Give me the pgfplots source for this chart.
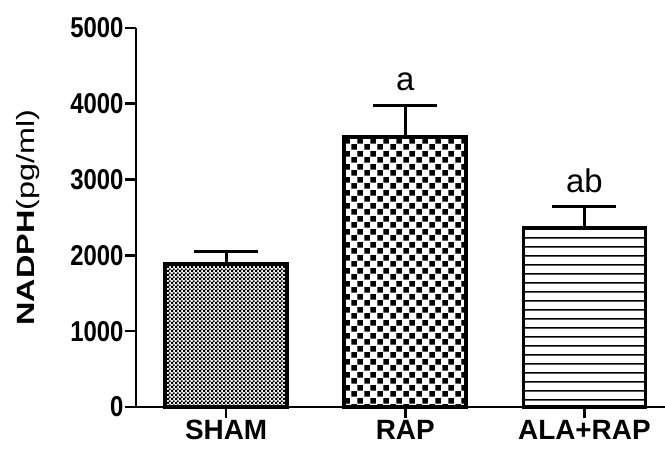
\documentclass[border=0pt]{standalone}
\usepackage{graphicx}
\usepackage{pgfplots}
\pgfplotsset{compat=1.18}
\usepackage{fontspec}
\setmainfont{Liberation Sans}
\usetikzlibrary{patterns.meta}
\pgfdeclarepattern{name=checker, type=uncolored,
  bottom left={\pgfpointorigin}, top right={\pgfpoint{13bp}{13bp}},
  tile size={\pgfpoint{13bp}{13bp}},
  code={\pgfpathrectangle{\pgfpoint{0.3bp}{0.3bp}}{\pgfpoint{6bp}{6bp}}
        \pgfpathrectangle{\pgfpoint{6.8bp}{6.8bp}}{\pgfpoint{6bp}{6bp}}
        \pgfusepath{fill}}}
\pgfdeclarepattern{name=finedots, type=uncolored,
  bottom left={\pgfpointorigin}, top right={\pgfpoint{4.2bp}{4.2bp}},
  tile size={\pgfpoint{4.2bp}{4.2bp}},
  code={\pgfpathrectangle{\pgfpoint{0bp}{0bp}}{\pgfpoint{2.5bp}{2.5bp}}
        \pgfpathrectangle{\pgfpoint{2.1bp}{2.1bp}}{\pgfpoint{2.3bp}{2.3bp}}
        \pgfusepath{fill}}}
\pgfdeclarepattern{name=hlines, type=uncolored,
  bottom left={\pgfpointorigin}, top right={\pgfpoint{10bp}{9bp}},
  tile size={\pgfpoint{10bp}{9bp}},
  code={\pgfpathrectangle{\pgfpoint{-1bp}{3.8bp}}{\pgfpoint{12bp}{1.5bp}}
        \pgfusepath{fill}}}
\begin{document}
\begin{tikzpicture}
\useasboundingbox (-136bp,-42bp) rectangle (529bp,407bp);
\begin{axis}[
  scale only axis, width=529bp, height=379bp,
  xmin=-0.503, xmax=2.45, ymin=0, ymax=5000,
  axis lines*=left,
  axis line style={line width=2.6bp},
  every tick/.style={line width=2.6bp, black},
  tick align=outside, major tick length=11bp,
  xtick={0,1,2}, xticklabels={SHAM,RAP,ALA+RAP},
  ytick={0,1000,2000,3000,4000,5000},
  /pgf/number format/assume math mode=true,
  /pgf/number format/1000 sep={},
  yticklabel={\scalebox{1.0}[1.2]{\pgfmathprintnumber{\tick}}},
  tick label style={font=\bfseries\fontsize{24}{28}\selectfont},
  yticklabel style={xshift=2bp},
  xticklabel style={font=\bfseries\fontsize{28}{32}\selectfont, yshift=1bp},
  ylabel={\scalebox{1.3}[1]{\textbf{NADPH}(pg/ml)}},
  ylabel style={font=\fontsize{25}{29}\selectfont, at={(axis description cs:-0.191,0.5)}, rotate=0, anchor=base},
  ybar, bar width=122bp, bar shift=0pt,
  clip=false,
]
\addplot[draw=black, line width=3.5bp, pattern=finedots, pattern color=black,
  error bars/.cd, y dir=plus, y explicit,
  error bar style={line width=3bp, black},
  error mark options={rotate=90, mark size=32bp, line width=3bp, black}]
  coordinates {(0,1886) +- (0,160)};
\addplot[draw=black, line width=3.5bp, pattern=checker, pattern color=black,
  error bars/.cd, y dir=plus, y explicit,
  error bar style={line width=3bp, black},
  error mark options={rotate=90, mark size=32bp, line width=3bp, black}]
  coordinates {(1,3562) +- (0,410)};
\addplot[draw=black, line width=3.5bp, pattern=hlines, pattern color=black,
  error bars/.cd, y dir=plus, y explicit,
  error bar style={line width=3bp, black},
  error mark options={rotate=90, mark size=32bp, line width=3bp, black}]
  coordinates {(2,2360) +- (0,280)};
\node[font=\fontsize{33}{38}\selectfont, anchor=base] at (axis cs:1,4182) {a};
\node[font=\fontsize{33}{38}\selectfont, anchor=base] at (axis cs:2,2836) {ab};
\end{axis}
\end{tikzpicture}
\end{document}
